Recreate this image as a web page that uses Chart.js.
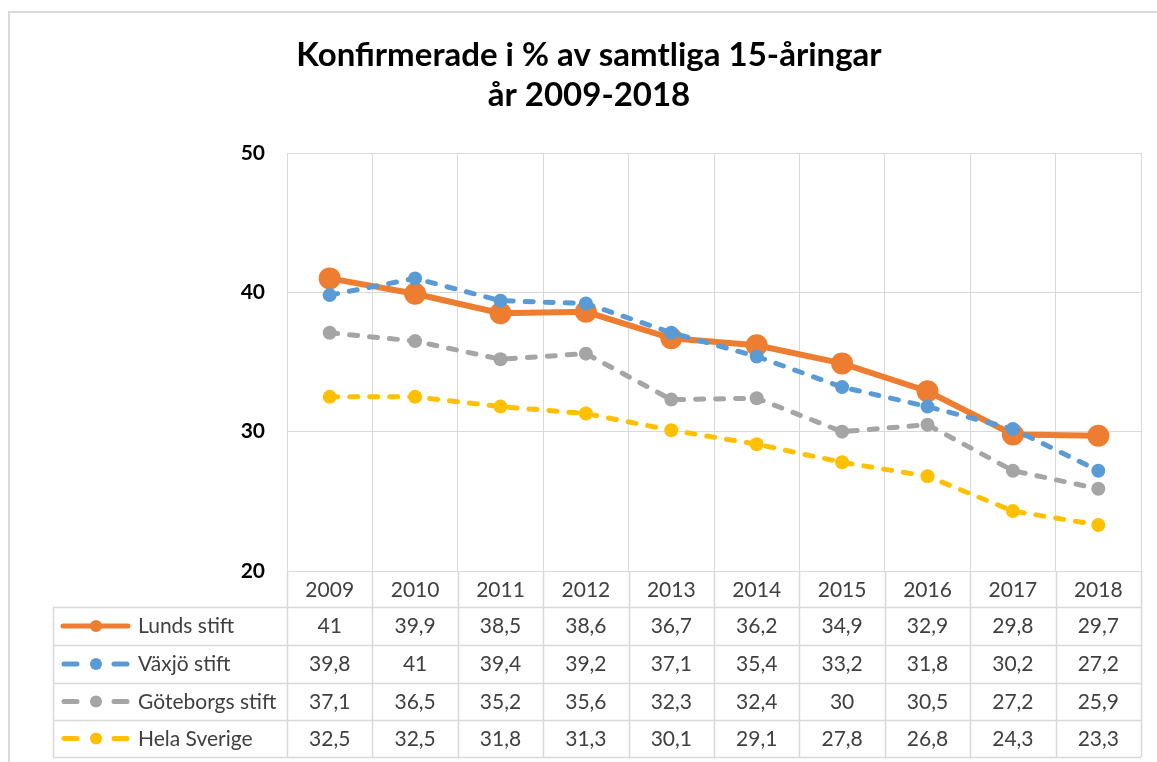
<!DOCTYPE html>
<html lang="sv">
<head>
<meta charset="UTF-8">
<title>Konfirmerade i % av samtliga 15-åringar</title>
<script src="https://cdn.jsdelivr.net/npm/chart.js"></script>
<style>
  body { margin: 0; background: #fff; }
  #wrap { width: 1157px; height: 762px; }
</style>
</head>
<body>
<div id="wrap"><canvas id="chart" width="1157" height="762"></canvas></div>
<script>
const years = ['2009', '2010', '2011', '2012', '2013', '2014', '2015', '2016', '2017', '2018'];
const lunds = [41, 39.9, 38.5, 38.6, 36.7, 36.2, 34.9, 32.9, 29.8, 29.7];
const vaxjo = [39.8, 41, 39.4, 39.2, 37.1, 35.4, 33.2, 31.8, 30.2, 27.2];
const goteborg = [37.1, 36.5, 35.2, 35.6, 32.3, 32.4, 30, 30.5, 27.2, 25.9];
const sverige = [32.5, 32.5, 31.8, 31.3, 30.1, 29.1, 27.8, 26.8, 24.3, 23.3];
const seriesNames = ['Lunds stift', 'Växjö stift', 'Göteborgs stift', 'Hela Sverige'];
const yTicks = [20, 30, 40, 50];

const FONT = 'Lato, "Open Sans", sans-serif';
const GRID = '#D9D9D9';

function fmt(v) {
  return String(v).replace('.', ',');
}

// title, outer frame and data table under the plot
const tablePlugin = {
  id: 'tablePlugin',
  afterDraw(chart) {
    const ctx = chart.ctx;
    const area = chart.chartArea;
    const x = chart.scales.x;
    const colW = (area.right - area.left) / years.length;
    const tableLeft = 53;
    const rowLines = [607, 645, 683, 720, 757];

    ctx.save();
    // outer frame
    ctx.strokeStyle = GRID;
    ctx.lineWidth = 2;
    ctx.beginPath();
    ctx.moveTo(9, 762);
    ctx.lineTo(9, 12);
    ctx.lineTo(1157, 12);
    ctx.stroke();

    // title
    ctx.fillStyle = '#000';
    ctx.font = 'bold 33px ' + FONT;
    ctx.textAlign = 'center';
    ctx.textBaseline = 'alphabetic';
    ctx.fillText('Konfirmerade i % av samtliga 15-åringar', 589, 66);
    ctx.fillText('år 2009-2018', 589, 106);

    // table grid
    ctx.strokeStyle = GRID;
    ctx.lineWidth = 1.5;
    ctx.beginPath();
    for (let i = 0; i <= years.length; i++) {
      const lx = Math.round(area.left + i * colW) + 0.5;
      ctx.moveTo(lx, area.bottom);
      ctx.lineTo(lx, rowLines[rowLines.length - 1]);
    }
    rowLines.forEach(function (ly) {
      ctx.moveTo(tableLeft, ly + 0.5);
      ctx.lineTo(area.right, ly + 0.5);
    });
    ctx.moveTo(tableLeft + 0.5, rowLines[0]);
    ctx.lineTo(tableLeft + 0.5, rowLines[rowLines.length - 1]);
    ctx.stroke();

    // year labels
    ctx.fillStyle = '#404040';
    ctx.font = '21px ' + FONT;
    years.forEach(function (y, i) {
      ctx.fillText(y, x.getPixelForValue(i), 597);
    });

    // series rows
    chart.data.datasets.forEach(function (ds, r) {
      const cy = (rowLines[r] + rowLines[r + 1]) / 2;
      const base = rowLines[r] + 26;
      ctx.strokeStyle = ds.borderColor;
      ctx.fillStyle = ds.borderColor;
      ctx.lineCap = 'round';
      ctx.lineWidth = 5;
      ctx.beginPath();
      if (r === 0) {
        ctx.moveTo(63, cy);
        ctx.lineTo(128, cy);
      } else {
        ctx.moveTo(64, cy);
        ctx.lineTo(77, cy);
        ctx.moveTo(114, cy);
        ctx.lineTo(127, cy);
      }
      ctx.stroke();
      ctx.beginPath();
      ctx.arc(96, cy, 6, 0, Math.PI * 2);
      ctx.fill();

      ctx.fillStyle = '#404040';
      ctx.textAlign = 'left';
      ctx.fillText(seriesNames[r], 138, base);
      ctx.textAlign = 'center';
      ds.data.forEach(function (v, i) {
        ctx.fillText(fmt(v), x.getPixelForValue(i), base);
      });
    });
    ctx.restore();
  }
};

const dashed = [8, 12];

new Chart(document.getElementById('chart'), {
  type: 'line',
  data: {
    labels: years,
    datasets: [
      {
        label: seriesNames[0], data: lunds, order: 4,
        borderColor: '#ED7D31', backgroundColor: '#ED7D31',
        borderWidth: 6, pointRadius: 11, pointBorderWidth: 0
      },
      {
        label: seriesNames[1], data: vaxjo, order: 3,
        borderColor: '#5B9BD5', backgroundColor: '#5B9BD5',
        borderWidth: 5, borderDash: dashed, borderCapStyle: 'round',
        pointRadius: 7, pointBorderWidth: 0
      },
      {
        label: seriesNames[2], data: goteborg, order: 2,
        borderColor: '#A5A5A5', backgroundColor: '#A5A5A5',
        borderWidth: 5, borderDash: dashed, borderCapStyle: 'round',
        pointRadius: 7, pointBorderWidth: 0
      },
      {
        label: seriesNames[3], data: sverige, order: 1,
        borderColor: '#FFC000', backgroundColor: '#FFC000',
        borderWidth: 5, borderDash: dashed, borderCapStyle: 'round',
        pointRadius: 7, pointBorderWidth: 0
      }
    ]
  },
  options: {
    responsive: false,
    animation: false,
    layout: { padding: { left: 10, right: 16, top: 153, bottom: 191 } },
    plugins: {
      legend: { display: false },
      tooltip: { enabled: false }
    },
    scales: {
      x: {
        offset: true,
        grid: { color: GRID, offset: true, drawTicks: false },
        border: { color: GRID },
        ticks: { display: false },
        afterFit(scale) { scale.height = 0; }
      },
      y: {
        min: 20,
        max: 50,
        afterBuildTicks(scale) { scale.ticks = yTicks.map(v => ({ value: v })); },
        grid: { color: GRID, drawTicks: false },
        border: { color: GRID },
        ticks: {
          padding: 22,
          color: '#000',
          font: { family: FONT, size: 21, weight: 'bold' }
        },
        afterFit(scale) { scale.width = 277; }
      }
    }
  },
  plugins: [tablePlugin]
});
</script>
</body>
</html>
